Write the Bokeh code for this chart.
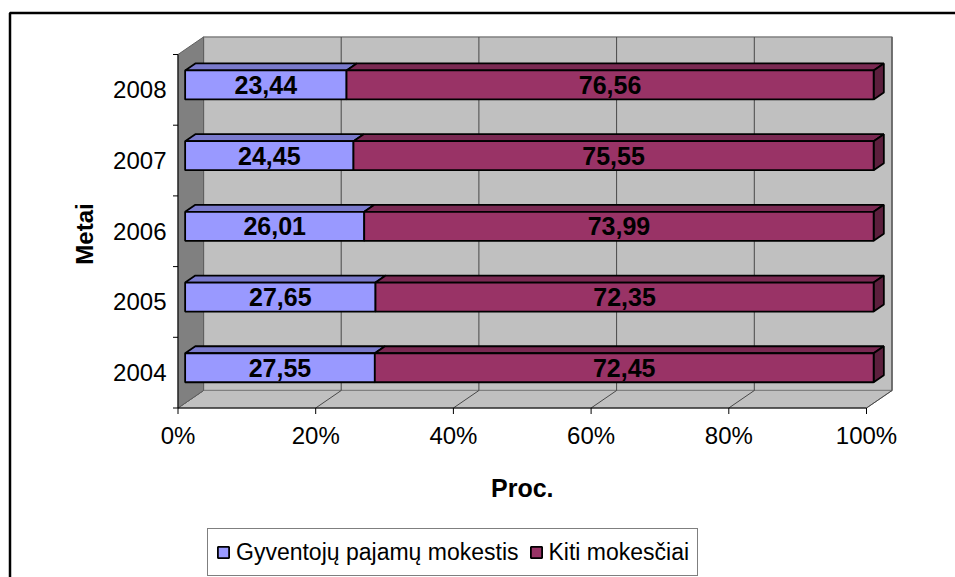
import math

from bokeh.plotting import figure
from bokeh.models import Range1d, Legend, LegendItem
from bokeh.core.properties import value
from bokeh.embed import file_html
from bokeh.resources import INLINE

# ---- data -------------------------------------------------------------
years = ["2004", "2005", "2006", "2007", "2008"]
gyventoju_pm = [27.55, 27.65, 26.01, 24.45, 23.44]   # Gyventojų pajamų mokestis
kiti_mokesciai = [72.45, 72.35, 73.99, 75.55, 76.56]  # Kiti mokesčiai
series_names = ["Gyventojų pajamų mokestis", "Kiti mokesčiai"]
x_ticks = [0, 20, 40, 60, 80, 100]
x_tick_labels = ["0%", "20%", "40%", "60%", "80%", "100%"]
x_title = "Proc."
y_title = "Metai"

# ---- layout / style ---------------------------------------------------
W, H = 955, 577
FONT = "Liberation Sans"
X0_PX, X_SCALE = 177.5, 6.885       # front plane: pixel of 0 %, pixels per %
Y_BOTTOM_PX, SLOT = 407.5, 70.7     # front plane: floor edge pixel, pixels per category
DEPTH_X = 25.5 / X_SCALE            # 3-D depth offset in data units
DEPTH_Y = 17.5 / SLOT
Z_FRONT, Z_BACK = 0.28, 0.68        # bar depth inside the plot box
BAR_H = 0.41                        # bar thickness in category units

FACE = ["#9999FF", "#993366"]
TOP = ["#7A7ACC", "#7A2952"]
SIDE = ["#5E5E9E", "#5C1F3D"]


def px_x(px):
    return (px - X0_PX) / X_SCALE


def px_y(py):
    return -0.5 + (Y_BOTTOM_PX - py) / SLOT


def proj(x, y, z):
    return x + z * DEPTH_X, y + z * DEPTH_Y


n = len(years)
y_lo, y_hi = -0.5, n - 0.5

p = figure(width=W, height=H, output_backend="svg", toolbar_location=None,
           x_range=Range1d(px_x(0), px_x(W)), y_range=Range1d(px_y(H), px_y(0)),
           x_axis_location=None, y_axis_location=None, min_border=0)
p.grid.visible = False
p.outline_line_color = None
p.background_fill_color = "white"
p.border_fill_color = "white"

# ---- chart area border (top and left edges) ----------------------------
p.line(x=[px_x(9.5), px_x(9.5), px_x(W)], y=[px_y(H), px_y(12.5), px_y(12.5)],
       line_color="black", line_width=2.5)

# ---- walls and floor ---------------------------------------------------
bx0, by0 = proj(0, y_lo, 1)
bx1, by1 = proj(100, y_hi, 1)
p.quad(left=bx0, right=bx1, bottom=by0, top=by1,
       fill_color="#C0C0C0", line_color="#808080", line_width=1.5)

fl = [proj(0, y_lo, 0), proj(0, y_lo, 1), proj(100, y_lo, 1), proj(100, y_lo, 0)]
p.patch(x=[q[0] for q in fl], y=[q[1] for q in fl],
        fill_color="#C0C0C0", line_color="#808080", line_width=1)

# gridlines on the back wall and across the floor
gx, gy = [], []
for t in x_ticks:
    a = proj(t, y_lo, 0)
    b = proj(t, y_lo, 1)
    c = proj(t, y_hi, 1)
    gx.append([a[0], b[0], c[0]])
    gy.append([a[1], b[1], c[1]])
p.multi_line(xs=gx, ys=gy, line_color="#484848", line_width=1)

lw = [proj(0, y_lo, 0), proj(0, y_lo, 1), proj(0, y_hi, 1), proj(0, y_hi, 0)]
p.patch(x=[q[0] for q in lw], y=[q[1] for q in lw],
        fill_color="#808080", line_color="#606060", line_width=1)

# ---- stacked 3-D bars --------------------------------------------------
series = [gyventoju_pm, kiti_mokesciai]
fronts = []
labels_x, labels_y, labels_t = [], [], []
for s, vals in enumerate(series):
    lefts, rights, bottoms, tops = [], [], [], []
    top_xs, top_ys, side_xs, side_ys = [], [], [], []
    for i in range(n):
        total = sum(ser[i] for ser in series)
        start = sum(ser[i] for ser in series[:s]) / total * 100
        end = start + vals[i] / total * 100
        fx0, fy0 = proj(start, i - BAR_H / 2, Z_FRONT)
        fx1, fy1 = proj(end, i + BAR_H / 2, Z_FRONT)
        lefts.append(fx0); rights.append(fx1); bottoms.append(fy0); tops.append(fy1)
        tp = [proj(start, i + BAR_H / 2, Z_FRONT), proj(end, i + BAR_H / 2, Z_FRONT),
              proj(end, i + BAR_H / 2, Z_BACK), proj(start, i + BAR_H / 2, Z_BACK)]
        top_xs.append([q[0] for q in tp]); top_ys.append([q[1] for q in tp])
        if s == len(series) - 1:
            sp = [proj(end, i - BAR_H / 2, Z_FRONT), proj(end, i - BAR_H / 2, Z_BACK),
                  proj(end, i + BAR_H / 2, Z_BACK), proj(end, i + BAR_H / 2, Z_FRONT)]
            side_xs.append([q[0] for q in sp]); side_ys.append([q[1] for q in sp])
        cx, cy = proj((start + end) / 2, i, Z_FRONT)
        labels_x.append(cx); labels_y.append(cy)
        labels_t.append(f"{vals[i]:.2f}".replace(".", ","))
    p.patches(xs=top_xs, ys=top_ys, fill_color=TOP[s], line_color="black", line_width=1.8)
    if side_xs:
        p.patches(xs=side_xs, ys=side_ys, fill_color=SIDE[s], line_color="black", line_width=1.8)
    r = p.quad(left=lefts, right=rights, bottom=bottoms, top=tops,
               fill_color=FACE[s], line_color="black", line_width=1.8)
    fronts.append(r)

p.text(x=labels_x, y=labels_y, text=labels_t, text_font=value(FONT),
       text_font_size="25px", text_font_style="bold", text_color="black",
       text_align="center", text_baseline="middle")

# ---- axes ---------------------------------------------------------------
p.line(x=[0, 0], y=[y_lo, y_hi], line_color="black", line_width=1)
p.line(x=[0, 100], y=[y_lo, y_lo], line_color="black", line_width=1)
tick_len_x = 5 / X_SCALE
tick_len_y = 6 / SLOT
p.segment(x0=[-tick_len_x] * (n + 1), x1=[0] * (n + 1),
          y0=[y_lo + k for k in range(n + 1)], y1=[y_lo + k for k in range(n + 1)],
          line_color="black", line_width=1)
p.segment(x0=x_ticks, x1=x_ticks, y0=[y_lo] * len(x_ticks),
          y1=[y_lo - tick_len_y] * len(x_ticks), line_color="black", line_width=1)

p.text(x=[px_x(166)] * n, y=list(range(n)), text=years, text_font=value(FONT),
       text_font_size="24px", text_color="black", text_align="right", text_baseline="middle")
p.text(x=x_ticks, y=[px_y(435)] * len(x_ticks), text=x_tick_labels, text_font=value(FONT),
       text_font_size="24px", text_color="black", text_align="center", text_baseline="middle")

p.text(x=[50], y=[px_y(487)], text=[x_title], text_font=value(FONT), text_font_size="25px",
       text_font_style="bold", text_color="black", text_align="center", text_baseline="middle")
p.text(x=[px_x(84)], y=[px_y(233.5)], text=[y_title], angle=math.pi / 2,
       text_font=value(FONT), text_font_size="24px", text_font_style="bold",
       text_color="black", text_align="center", text_baseline="middle")

# ---- legend ---------------------------------------------------------------
legend = Legend(items=[LegendItem(label=series_names[k], renderers=[fronts[k]]) for k in range(2)],
                location=(207, 1), orientation="horizontal", margin=0,
                label_text_font=FONT, label_text_font_size="23px", label_text_color="black",
                glyph_width=14, glyph_height=14, label_standoff=6, spacing=10, padding=8,
                label_height=30, border_line_color="black", border_line_width=1,
                background_fill_color="white", background_fill_alpha=1)
p.add_layout(legend)

open("out.html", "w").write(file_html(p, INLINE))
